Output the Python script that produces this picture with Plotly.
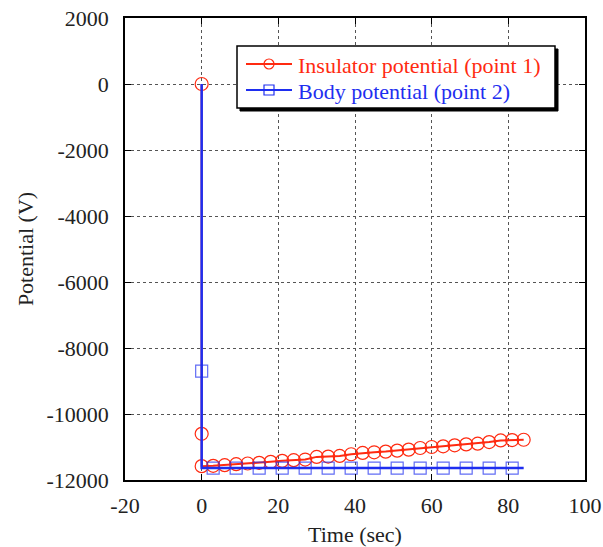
import plotly.graph_objects as go

# Insulator potential (point 1)
ins_t = [0, 0, 0, 3, 6, 9, 12, 15, 18, 21, 24, 27, 30, 33, 36, 39, 42, 45, 48, 51,
         54, 57, 60, 63, 66, 69, 72, 75, 78, 81, 84]
ins_v = [0, -10600, -11580, -11570, -11550, -11520, -11500, -11480, -11450, -11420,
         -11400, -11380, -11300, -11290, -11270, -11220, -11180, -11160, -11140,
         -11110, -11080, -11030, -11000, -10980, -10950, -10920, -10900, -10850,
         -10800, -10790, -10780]

# Body potential (point 2)
body_t = [0, 0, 0, 3, 9, 15, 21, 27, 33, 39, 45, 51, 57, 63, 69, 75, 81, 84]
body_v = [0, -8700, -11640, -11640, -11640, -11640, -11640, -11640, -11640, -11640,
          -11640, -11640, -11640, -11640, -11640, -11640, -11640, -11640]

series_names = ["Insulator potential (point 1)", "Body potential (point 2)"]

x_ticks = [-20, 0, 20, 40, 60, 80, 100]
y_ticks = [2000, 0, -2000, -4000, -6000, -8000, -10000, -12000]

FONT = "Liberation Serif"
RED = "#ff2a10"
BLUE = "#1e2ef0"

W, H = 603, 547
ML, MR, MT, MB = 125, 18, 18, 67
PW, PH = W - ML - MR, H - MT - MB


def px(xp):
    return (xp - ML) / PW


def py(yp):
    return (H - MB - yp) / PH


body_sizes = [12] * len(body_t)
body_sizes[0] = 0
body_sizes[2] = 0
body_sizes[-1] = 0

fig = go.Figure()
fig.add_trace(go.Scatter(
    x=ins_t, y=ins_v, mode="lines+markers", name=series_names[0],
    line=dict(color=RED, width=2),
    marker=dict(symbol="circle-open", size=13, color=RED, line=dict(width=1.2, color=RED)),
    showlegend=False,
))
fig.add_trace(go.Scatter(
    x=body_t, y=body_v, mode="lines+markers", name=series_names[1],
    line=dict(color=BLUE, width=2.5),
    marker=dict(symbol="square-open", size=body_sizes, color=BLUE, line=dict(width=1.2, color=BLUE)),
    showlegend=False,
))

axis_common = dict(
    showline=True, linecolor="black", linewidth=1.5, mirror="allticks",
    ticks="inside", ticklen=6, tickcolor="black", tickwidth=1,
    showgrid=True, gridcolor="#555555", griddash="dot", gridwidth=1,
    zeroline=False, automargin=False,
    tickfont=dict(family=FONT, size=22, color="#222222"),
)

# Manual legend (box with shadow, sample lines, markers, labels)
bx0, bx1, by0, by1 = 237, 555, 46, 108
shadow = 3
rows = [(64, RED, "circle"), (90, BLUE, "rect")]
shapes = [
    dict(type="rect", xref="paper", yref="paper", layer="above",
         x0=px(bx0 + shadow), x1=px(bx1 + shadow), y0=py(by0 + shadow), y1=py(by1 + shadow),
         fillcolor="black", line=dict(color="black", width=1)),
    dict(type="rect", xref="paper", yref="paper", layer="above",
         x0=px(bx0), x1=px(bx1), y0=py(by0), y1=py(by1),
         fillcolor="white", line=dict(color="black", width=1.5)),
]
annotations = []
for (yrow, col, sym), name in zip(rows, series_names):
    shapes.append(dict(type="line", xref="paper", yref="paper", layer="above",
                       x0=px(246), x1=px(292), y0=py(yrow), y1=py(yrow),
                       line=dict(color=col, width=2)))
    shapes.append(dict(type=sym, xref="paper", yref="paper", layer="above",
                       xsizemode="pixel", ysizemode="pixel",
                       xanchor=px(269), yanchor=py(yrow),
                       x0=-5, x1=5, y0=-5, y1=5,
                       fillcolor="rgba(0,0,0,0)", line=dict(color=col, width=1.2)))
    annotations.append(dict(xref="paper", yref="paper", x=px(297), y=py(yrow + 1),
                            xanchor="left", yanchor="middle", showarrow=False,
                            borderpad=0,
                            text=name, font=dict(family=FONT, size=22, color=col)))

fig.update_layout(
    width=W, height=H,
    margin=dict(l=ML, r=MR, t=MT, b=MB, autoexpand=False),
    paper_bgcolor="white", plot_bgcolor="white",
    font=dict(family=FONT, size=22, color="#222222"),
    xaxis=dict(range=[-20, 100], tickvals=x_ticks,
               ticktext=[str(v) for v in x_ticks], ticklabelstandoff=5,
               title=dict(text="Time (sec)", font=dict(family=FONT, size=22), standoff=10),
               **axis_common),
    yaxis=dict(range=[-12000, 2000], tickvals=y_ticks,
               ticktext=[str(v) for v in y_ticks], ticklabelstandoff=10,
               title=dict(text="Potential (V)", font=dict(family=FONT, size=22), standoff=7),
               **axis_common),
    shapes=shapes,
    annotations=annotations,
    showlegend=False,
)

fig.write_html("out.html")
